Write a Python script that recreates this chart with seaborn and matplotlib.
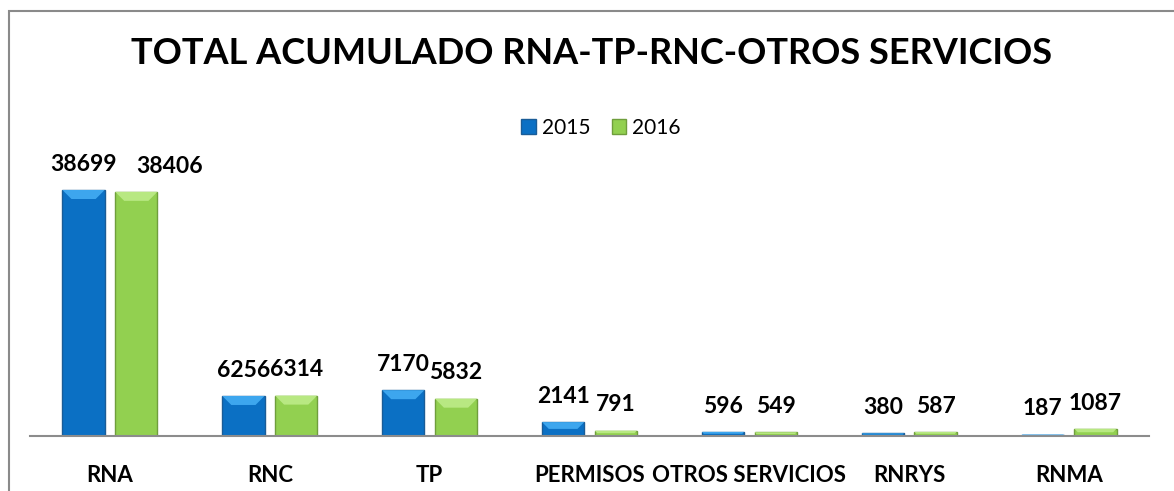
import pandas as pd
import seaborn as sns
import matplotlib.pyplot as plt
from matplotlib.patches import Polygon, Rectangle

# Chart data
categories = ["RNA", "RNC", "TP", "PERMISOS", "OTROS SERVICIOS", "RNRYS", "RNMA"]
years = ["2015", "2016"]
values_2015 = [38699, 6256, 7170, 2141, 596, 380, 187]
values_2016 = [38406, 6314, 5832, 791, 549, 587, 1087]

df = pd.DataFrame({
    "Categoria": categories * 2,
    "Año": [years[0]] * len(categories) + [years[1]] * len(categories),
    "Total": values_2015 + values_2016,
})

sns.set_style("white")
plt.rcParams["font.family"] = ["Lato", "DejaVu Sans"]
plt.rcParams["text.color"] = "black"
plt.rcParams["xtick.color"] = "black"

colors = {"2015": "#0B70C4", "2016": "#92D050"}
edges = {"2015": "#1A5C97", "2016": "#6F9E3C"}
lights = {"2015": "#3DA6EE", "2016": "#B8E882"}

fig = plt.figure(figsize=(11.74, 4.91), dpi=100)
ax = fig.add_axes([30 / 1174, (491 - 435.7) / 491, 1119 / 1174, 285.7 / 491])

sns.barplot(data=df, x="Categoria", y="Total", hue="Año", palette=colors,
            width=0.66, gap=0.2, saturation=1, legend=False, ax=ax)

ax.set_xlim(-0.5, len(categories) - 0.5)
ax.set_ylim(0, 45000)

# darker edges and a light bevel on top of every bar
px_y = 45000 / 285.7
px_x = 1 / 160
for cont, yr in zip(ax.containers, years):
    for bar in cont:
        bar.set_edgecolor(edges[yr])
        bar.set_linewidth(1)
        x, w, h = bar.get_x(), bar.get_width(), bar.get_height()
        d = min(9, (h / px_y) / 2)
        dy, dx = d * px_y, d * px_x
        ax.add_patch(Polygon([(x, h), (x + w, h), (x + w - dx, h - dy), (x + dx, h - dy)],
                             closed=True, facecolor=lights[yr], edgecolor="none", zorder=3))

# data labels
for cont in ax.containers:
    ax.bar_label(cont, fmt="%d", padding=11, fontsize=16.5, fontweight="bold", color="black")
# second RNA label was moved right in the original to avoid overlap
ax.texts[len(categories)].set_ha("left")

ax.set_xlabel("")
ax.set_ylabel("")
ax.set_yticks([])
ax.tick_params(axis="x", length=0, pad=21)
for lbl in ax.get_xticklabels():
    lbl.set_fontsize(16)
    lbl.set_fontweight("bold")
sns.despine(ax=ax, left=True, top=True, right=True)
ax.spines["bottom"].set_color("#8C8C8C")
ax.spines["bottom"].set_linewidth(1.5)

# legend
handles = [Rectangle((0, 0), 1, 1, facecolor=colors[y], edgecolor=edges[y]) for y in years]
fig.legend(handles, years, loc="center", bbox_to_anchor=(0.512, 1 - 128 / 491), ncol=2,
           frameon=False, fontsize=15, handlelength=0.7, handleheight=0.7,
           handletextpad=0.3, columnspacing=1.0)

fig.text(0.504, 1 - 54 / 491, "TOTAL ACUMULADO RNA-TP-RNC-OTROS SERVICIOS",
         ha="center", va="center", fontsize=26, fontweight="bold", color="black")

# chart border
fig.patches.append(Rectangle((9 / 1174, -0.1), 1.2, 1 - 11 / 491 + 0.1, transform=fig.transFigure,
                             fill=False, edgecolor="#8A8A8A", linewidth=1.5))

fig.savefig("out.png", dpi=100)
